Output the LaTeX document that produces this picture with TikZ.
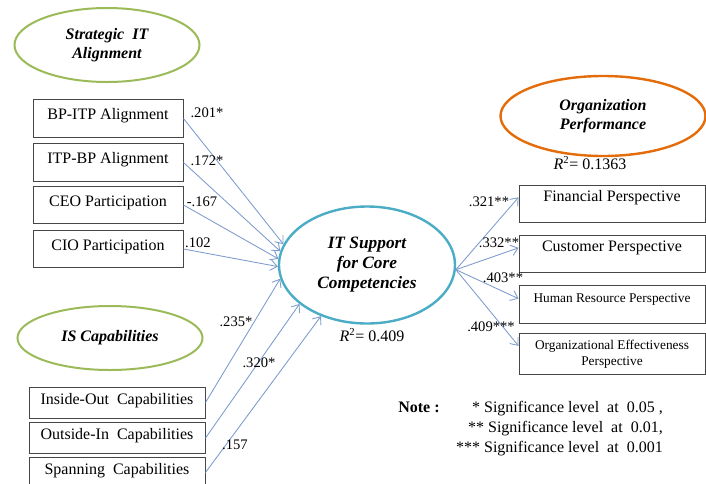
\documentclass[tikz,border=0pt,12pt]{standalone}
\usepackage{fontspec}
\setmainfont{Liberation Serif}
\usetikzlibrary{shapes.geometric,arrows.meta}
\definecolor{alignGreen}{RGB}{155,187,89}
\definecolor{coreTeal}{RGB}{75,172,198}
\definecolor{perfOrange}{RGB}{228,108,10}
\definecolor{pathBlue}{RGB}{125,155,205}
\definecolor{boxGray}{RGB}{70,70,70}
\newcommand{\rsq}{\textit{R}\textsuperscript{2}}
\tikzset{
  construct/.style={ellipse, draw, line width=1.5pt, inner sep=0pt, align=center, font=\bfseries\itshape},
  indicator/.style={draw=boxGray, line width=0.75pt, inner xsep=0pt, inner ysep=2pt},
  alignbox/.style={indicator, minimum width=112.5pt, text height=13pt, text depth=11pt},
  capbox/.style={indicator, minimum width=132pt, text height=10.75pt, text depth=8.5pt},
  perfbox/.style={indicator, minimum width=139.5pt, text height=10pt, text depth=13.75pt},
  effect/.style={draw=pathBlue, line width=0.65pt, -{Straight Barb[length=5pt,width=8pt]}},
  coef/.style={font=\small, inner sep=0pt}
}

\begin{document}
\begin{tikzpicture}[x=0.75pt,y=-0.75pt]
\useasboundingbox (0,0) rectangle (706,483);
\clip (0,0) rectangle (706,483);

\node[construct, draw=alignGreen, minimum width=138.75pt, minimum height=55.5pt] (sita) at (107,45) {Strategic\ \ IT\\Alignment};
\node[construct, draw=alignGreen, minimum width=138.75pt, minimum height=48pt] (isc) at (110,338) {IS Capabilities};
\node[construct, draw=coreTeal, line width=1.8pt, minimum width=132pt, minimum height=87.75pt,
      font=\fontsize{13}{15}\selectfont\bfseries\itshape] (its) at (367,265) {IT Support\\for Core\\Competencies};
\node[construct, draw=perfOrange, line width=1.8pt, minimum width=153.75pt, minimum height=60pt] (op) at (603,116) {Organization\\Performance};

\node[alignbox] (bpitp) at (108,118.5) {BP-ITP Alignment};
\node[alignbox] (itpbp) at (108,162.5) {ITP-BP Alignment};
\node[alignbox] (ceo) at (108,205) {CEO Participation};
\node[alignbox] (cio) at (108,249) {CIO Participation};

\node[capbox] (inout) at (117,402.5) {Inside-Out\ \ Capabilities};
\node[capbox] (outin) at (117,438) {Outside-In\ \ Capabilities};
\node[capbox] (span) at (117,472.5) {Spanning\ \ Capabilities};

\node[perfbox] (fin) at (612,203.5) {Financial Perspective};
\node[perfbox] (cust) at (612,254) {Customer Perspective};
\node[perfbox, font=\footnotesize, text height=11pt, text depth=13.5pt] (hr) at (612,304) {Human Resource Perspective};
\node[indicator, minimum width=139.5pt, minimum height=30.75pt, align=center, font=\footnotesize] (oe) at (612,354) {Organizational Effectiveness\\Perspective};

\foreach \src/\ang in {bpitp/166, itpbp/171, ceo/176, cio/181}
  \draw[effect] (\src.east) -- (its.\ang);
\foreach \src/\ang in {inout/189, outin/210, span/228}
  \draw[effect] (\src.east) -- (its.\ang);
\foreach \dst in {fin, cust, hr}
  \draw[effect] (its.357) -- (\dst.mid west);
\draw[effect] (its.357) -- (oe.175);

\node[coef] (cBp) at (207,113) {.201*};
\node[coef] (cItp) at (207,161) {.172*};
\node[coef] (cCeo) at (202,202) {-.167};
\node[coef] (cCio) at (198,243) {.102};
\node[coef] (cIn) at (236,322) {.235*};
\node[coef] (cOut) at (259,363) {.320*};
\node[coef] (cSpan) at (235,445) {.157};
\node[coef] (cFin) at (489,202) {.321**};
\node[coef] (cCust) at (499,243) {.332**};
\node[coef] (cHr) at (503,278) {.403**};
\node[coef] (cOe) at (491,327) {.409***};

\node (r2core) at (372,335) {\rsq= 0.409};
\node (r2perf) at (590,163) {\rsq= 0.1363};

\node[font=\bfseries] (note) at (419,407) {Note :};
\node[align=right, anchor=north east, inner sep=0pt, font=\fontsize{12}{15}\selectfont] (levels) at (663,401)
  {* Significance level\ \ at\ \ 0.05 ,\\** Significance level\ \ at\ \ 0.01,\\*** Significance level\ \ at\ \ 0.001};
\end{tikzpicture}
\end{document}
